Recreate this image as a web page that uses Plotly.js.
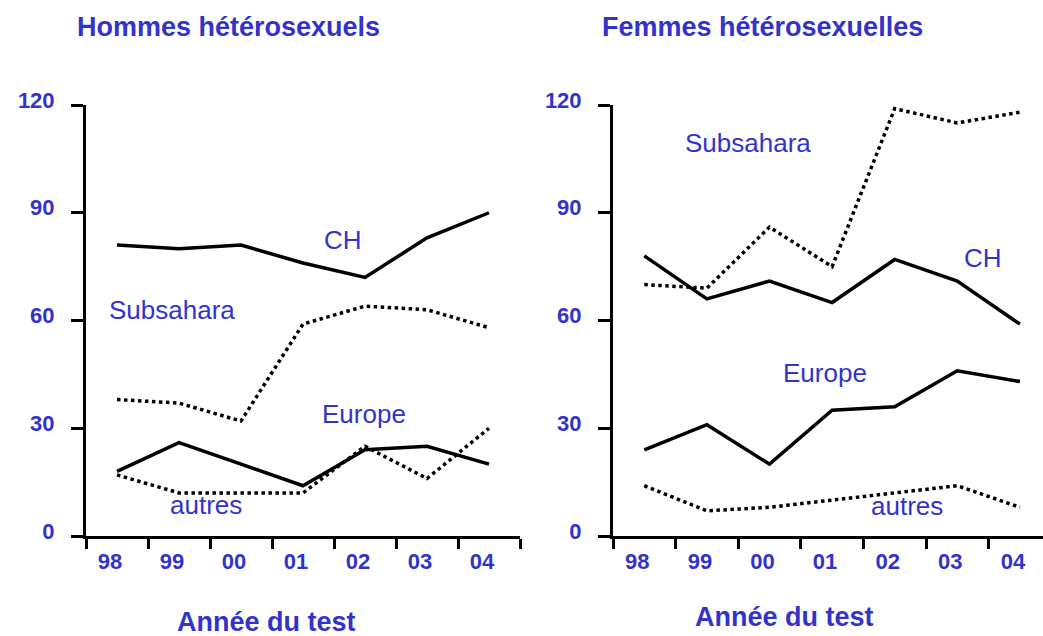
<!DOCTYPE html>
<html>
<head>
<meta charset="utf-8">
<script src="https://cdn.plot.ly/plotly-3.0.1.min.js"></script>
<style>html,body{margin:0;padding:0;background:#fff;}#chart{width:1043px;height:636px;}</style>
</head>
<body>
<div id="chart"></div>
<script>
const years = ["98", "99", "00", "01", "02", "03", "04"];
const yTicks = [0, 30, 60, 90, 120];

// Hommes hétérosexuels
const menCH = [81, 80, 81, 76, 72, 83, 90];
const menSubsahara = [38, 37, 32, 59, 64, 63, 58];
const menEurope = [18, 26, 20, 14, 24, 25, 20];
const menAutres = [17, 12, 12, 12, 25, 16, 30];

// Femmes hétérosexuelles
const womenCH = [78, 66, 71, 65, 77, 71, 59];
const womenSubsahara = [70, 69, 86, 75, 119, 115, 118];
const womenEurope = [24, 31, 20, 35, 36, 46, 43];
const womenAutres = [14, 7, 8, 10, 12, 14, 8];

const panelTitles = ["Hommes hétérosexuels", "Femmes hétérosexuelles"];
const xTitle = "Année du test";
const seriesNames = ["CH", "Subsahara", "Europe", "autres"];

const BLUE = "rgb(51,51,204)";
const FONT = "Liberation Sans, Arial, Helvetica, sans-serif";

function line(y, dotted, xa, ya, name) {
  return {
    x: years, y: y, type: "scatter", mode: "lines", name: name,
    xaxis: xa, yaxis: ya, hoverinfo: "skip",
    line: {color: "#000", width: 3.5, dash: dotted ? "dot" : "solid"}
  };
}

const data = [
  line(menCH, false, "x", "y", "CH"),
  line(menSubsahara, true, "x", "y", "Subsahara"),
  line(menEurope, false, "x", "y", "Europe"),
  line(menAutres, true, "x", "y", "autres"),
  line(womenCH, false, "x2", "y2", "CH"),
  line(womenSubsahara, true, "x2", "y2", "Subsahara"),
  line(womenEurope, false, "x2", "y2", "Europe"),
  line(womenAutres, true, "x2", "y2", "autres")
];

function xax(domain, range, anchor) {
  return {
    domain: domain, range: range, anchor: anchor, type: "category",
    categoryorder: "array", categoryarray: years,
    tickson: "boundaries", ticks: "outside", ticklen: 10, tickwidth: 3, tickcolor: "#000",
    showline: true, linecolor: "#000", linewidth: 3, showgrid: false, zeroline: false,
    tickfont: {family: FONT, size: 22, color: BLUE, weight: "bold"},
    ticklabelshift: -7, ticklabelstandoff: 4, fixedrange: true
  };
}
function yax(anchor) {
  return {
    anchor: anchor, domain: [0, 1], range: [0, 120],
    tickmode: "array", tickvals: yTicks, ticktext: yTicks.map(String),
    ticks: "outside", ticklen: 12, tickwidth: 3, tickcolor: "#000",
    showline: true, linecolor: "#000", linewidth: 3, showgrid: false, zeroline: false,
    tickfont: {family: FONT, size: 22, color: BLUE, weight: "bold"},
    ticklabelshift: -5, ticklabelstandoff: 12, fixedrange: true
  };
}

function lab(text, x, y, xref, yref) {
  return {text: text, x: x, y: y, xref: xref, yref: yref, showarrow: false,
    xanchor: "center", yanchor: "middle",
    font: {family: FONT, size: 26, color: BLUE}};
}
function boldLab(text, x, y) {
  return {text: text, x: x, y: y, xref: "paper", yref: "paper", showarrow: false,
    xanchor: "center", yanchor: "middle",
    font: {family: FONT, size: 27, color: BLUE, weight: "bold"}};
}

const annotations = [
  boldLab(panelTitles[0], (228.5 - 86) / 957, (536 - 26.7) / 431),
  boldLab(panelTitles[1], (762 - 86) / 957, (536 - 26.7) / 431),
  boldLab(xTitle, (266 - 86) / 957, (536 - 622) / 431),
  boldLab(xTitle, (784.5 - 86) / 957, (536 - 617) / 431),
  lab(seriesNames[0], 3.65, 82.4, "x", "y"),
  lab(seriesNames[1], 0.88, 62.9, "x", "y"),
  lab(seriesNames[2], 3.99, 34, "x", "y"),
  lab(seriesNames[3], 1.43, 8.5, "x", "y"),
  lab(seriesNames[0], 5.41, 77.5, "x2", "y2"),
  lab(seriesNames[1], 1.65, 109.5, "x2", "y2"),
  lab(seriesNames[2], 2.88, 45.4, "x2", "y2"),
  lab(seriesNames[3], 4.2, 8.4, "x2", "y2")
];

const layout = {
  width: 1043, height: 636,
  margin: {l: 86, r: 0, t: 105, b: 100, pad: 0},
  paper_bgcolor: "#fff", plot_bgcolor: "#fff",
  showlegend: false,
  xaxis: xax([0, 434 / 957], [-0.5, 6.5], "y"),
  yaxis: yax("x"),
  xaxis2: xax([527 / 957, 1], [-0.5, -0.5 + 430 / 62.6], "y2"),
  yaxis2: yax("x2"),
  annotations: annotations
};

Plotly.newPlot("chart", data, layout, {displayModeBar: false, staticPlot: true});
</script>
</body>
</html>
